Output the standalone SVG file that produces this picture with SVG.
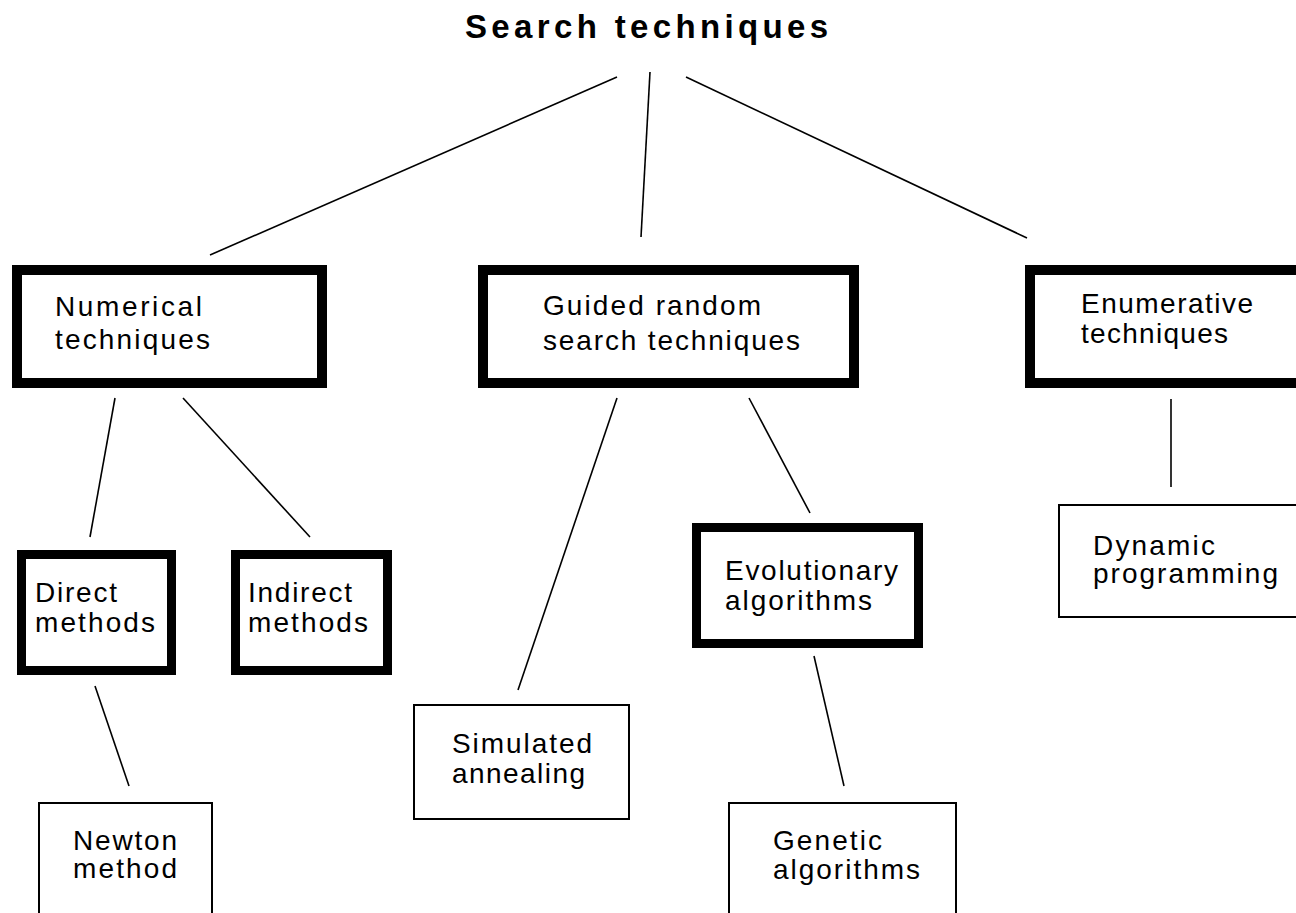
<svg xmlns="http://www.w3.org/2000/svg" width="1296" height="913" viewBox="0 0 1296 913">
<style>
.bg{fill:#fff}
.heavy{fill:#fff;stroke:#000;stroke-width:10}
.mid{fill:#fff;stroke:#000;stroke-width:9}
.thin{fill:#fff;stroke:#000;stroke-width:2}
.lbl{font-family:"Liberation Sans",Arial,sans-serif;font-size:28px;fill:#000}
.title{font-family:"Liberation Sans",Arial,sans-serif;font-size:33px;font-weight:bold;fill:#000}
.conn line{stroke:#000;stroke-width:1.6;fill:none}
</style>
<rect class="bg" x="0" y="0" width="1296" height="913"/>
<g id="connectors" class="conn">
<line x1="617" y1="77" x2="210" y2="255"/>
<line x1="650" y1="72" x2="641" y2="237"/>
<line x1="686" y1="77" x2="1027" y2="238"/>
<line x1="115" y1="398" x2="90" y2="537"/>
<line x1="183" y1="398" x2="310" y2="537"/>
<line x1="617" y1="398" x2="518" y2="690"/>
<line x1="749" y1="398" x2="810" y2="513"/>
<line x1="1171" y1="399" x2="1171" y2="487"/>
<line x1="95" y1="686" x2="129" y2="786"/>
<line x1="814" y1="656" x2="844" y2="786"/>
</g>
<g id="title">
<text class="title" x="465" y="38" textLength="363" lengthAdjust="spacing">Search techniques</text>
</g>
<g id="numerical">
<rect class="heavy" x="17" y="270" width="305" height="113"/>
<text class="lbl" x="55" y="316" textLength="147" lengthAdjust="spacing">Numerical</text>
<text class="lbl" x="55" y="349" textLength="155" lengthAdjust="spacing">techniques</text>
</g>
<g id="guided">
<rect class="heavy" x="483" y="270" width="371" height="113"/>
<text class="lbl" x="543" y="315" textLength="218" lengthAdjust="spacing">Guided random</text>
<text class="lbl" x="543" y="350" textLength="257" lengthAdjust="spacing">search techniques</text>
</g>
<g id="enumerative">
<rect class="heavy" x="1030" y="270" width="300" height="113"/>
<text class="lbl" x="1081" y="313" textLength="172" lengthAdjust="spacing">Enumerative</text>
<text class="lbl" x="1081" y="343" textLength="147" lengthAdjust="spacing">techniques</text>
</g>
<g id="direct">
<rect class="mid" x="21.5" y="554.5" width="150" height="116"/>
<text class="lbl" x="35" y="602" textLength="82" lengthAdjust="spacing">Direct</text>
<text class="lbl" x="35" y="632" textLength="120" lengthAdjust="spacing">methods</text>
</g>
<g id="indirect">
<rect class="mid" x="235.5" y="554.5" width="152" height="116"/>
<text class="lbl" x="248" y="602" textLength="104" lengthAdjust="spacing">Indirect</text>
<text class="lbl" x="248" y="632" textLength="120" lengthAdjust="spacing">methods</text>
</g>
<g id="evolutionary">
<rect class="mid" x="696.5" y="527.5" width="222" height="116"/>
<text class="lbl" x="725" y="580" textLength="173" lengthAdjust="spacing">Evolutionary</text>
<text class="lbl" x="725" y="610" textLength="147" lengthAdjust="spacing">algorithms</text>
</g>
<g id="simulated">
<rect class="thin" x="414" y="705" width="215" height="114"/>
<text class="lbl" x="452" y="753" textLength="140" lengthAdjust="spacing">Simulated</text>
<text class="lbl" x="452" y="783" textLength="133" lengthAdjust="spacing">annealing</text>
</g>
<g id="newton">
<rect class="thin" x="39" y="803" width="173" height="130"/>
<text class="lbl" x="73" y="850" textLength="104" lengthAdjust="spacing">Newton</text>
<text class="lbl" x="73" y="878" textLength="104" lengthAdjust="spacing">method</text>
</g>
<g id="genetic">
<rect class="thin" x="729" y="803" width="227" height="130"/>
<text class="lbl" x="773" y="850" textLength="109" lengthAdjust="spacing">Genetic</text>
<text class="lbl" x="773" y="879" textLength="147" lengthAdjust="spacing">algorithms</text>
</g>
<g id="dynamic">
<rect class="thin" x="1059" y="505" width="260" height="112"/>
<text class="lbl" x="1093" y="555" textLength="122" lengthAdjust="spacing">Dynamic</text>
<text class="lbl" x="1093" y="583" textLength="185" lengthAdjust="spacing">programming</text>
</g>
</svg>
